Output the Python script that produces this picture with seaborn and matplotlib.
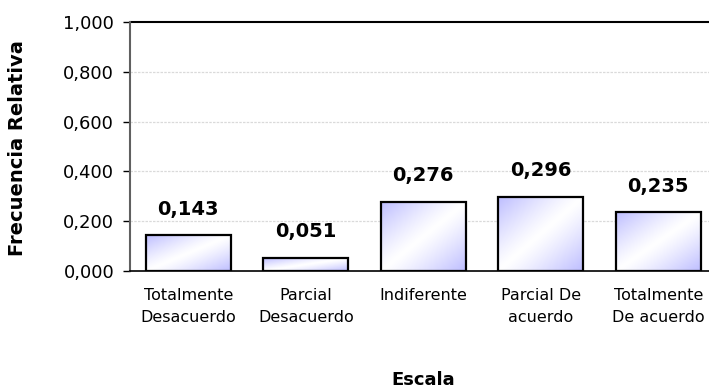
import numpy as np
import pandas as pd
import matplotlib
matplotlib.use("Agg")
import matplotlib.pyplot as plt
import seaborn as sns

categorias = ["Totalmente\nDesacuerdo", "Parcial\nDesacuerdo", "Indiferente",
              "Parcial De\nacuerdo", "Totalmente\nDe acuerdo"]
frecuencias = [0.143, 0.051, 0.276, 0.296, 0.235]
yticks = [0.0, 0.2, 0.4, 0.6, 0.8, 1.0]

sns.set_style("white")
plt.rcParams["font.family"] = ["DejaVu Sans"]
plt.rcParams["text.color"] = "black"
plt.rcParams["axes.labelcolor"] = "black"
plt.rcParams["xtick.color"] = "black"
plt.rcParams["ytick.color"] = "black"

df = pd.DataFrame({"Escala": categorias, "Frecuencia": frecuencias})

fig = plt.figure(figsize=(7.09, 3.90), dpi=100)
ax = fig.add_axes([129.5 / 709, 1 - 271 / 390, (717 - 129.5) / 709, (271 - 22) / 390])

sns.barplot(data=df, x="Escala", y="Frecuencia", ax=ax, width=0.72,
            color="white", edgecolor="black", linewidth=1.6, zorder=3)

# diagonal lavender-white-lavender gradient inside each bar
n = 200
u = np.linspace(0, 1, n)[None, :]
v = np.linspace(0, 1, n)[:, None]
t = (u + v) / 2.0
s = np.abs(2 * t - 1) ** 1.2
lav = np.array([0.74, 0.74, 1.0])
img = (1 - s)[..., None] * np.ones(3) + s[..., None] * lav

for p in ax.patches:
    x0, y0 = p.get_x(), p.get_y()
    w, h = p.get_width(), p.get_height()
    p.set_facecolor("none")
    im = ax.imshow(img, extent=[x0, x0 + w, y0, y0 + h], origin="upper",
                   aspect="auto", zorder=2.5, interpolation="bilinear")
    im.set_clip_path(p)

for i, val in enumerate(frecuencias):
    ax.annotate(f"{val:.3f}".replace(".", ","), xy=(i, val), xytext=(0, 19),
                textcoords="offset points", ha="center", va="center",
                fontsize=14, fontweight="bold", color="black", zorder=5)

ax.set_xlim(-0.5, 4.5)
ax.set_ylim(0, 1.0)
ax.set_yticks(yticks)
ax.set_yticklabels([f"{y:.3f}".replace(".", ",") for y in yticks], fontsize=13)

# grid: dotted light lines, solid dark line at the top value
for y in yticks[1:-1]:
    ax.axhline(y, color="#dadada", linestyle=(0, (2, 1)), linewidth=0.9, zorder=1)
ax.axhline(1.0, color="black", linewidth=1.5, zorder=1, clip_on=False)

ax.set_xticks(range(len(categorias)))
ax.set_xticklabels(categorias, fontsize=11.5, linespacing=1.6)
ax.tick_params(axis="x", which="major", length=0, pad=12)
ax.set_xticks(np.arange(-0.5, 5.0, 1.0), minor=True)
ax.tick_params(axis="x", which="minor", length=5, width=1, color="black", direction="out")
ax.tick_params(axis="y", length=5, width=1, color="black", direction="out", pad=6, left=True)

for side in ["top", "right"]:
    ax.spines[side].set_visible(False)
ax.spines["left"].set_color("#606060")
ax.spines["left"].set_linewidth(1.5)
ax.spines["bottom"].set_color("black")
ax.spines["bottom"].set_linewidth(1.2)

ax.set_xlabel("Escala", fontsize=13, fontweight="bold", color="black")
ax.set_ylabel("Frecuencia Relativa", fontsize=14, fontweight="bold", color="black")
ax.xaxis.label.set_va("center")
ax.yaxis.label.set_va("center")
ax.xaxis.set_label_coords((423 - 129.5) / (717 - 129.5), -(380 - 271) / 249)
ax.yaxis.set_label_coords(-(129.5 - 18) / (717 - 129.5), (271 - 148) / 249)

fig.savefig("out.png", dpi=100)
